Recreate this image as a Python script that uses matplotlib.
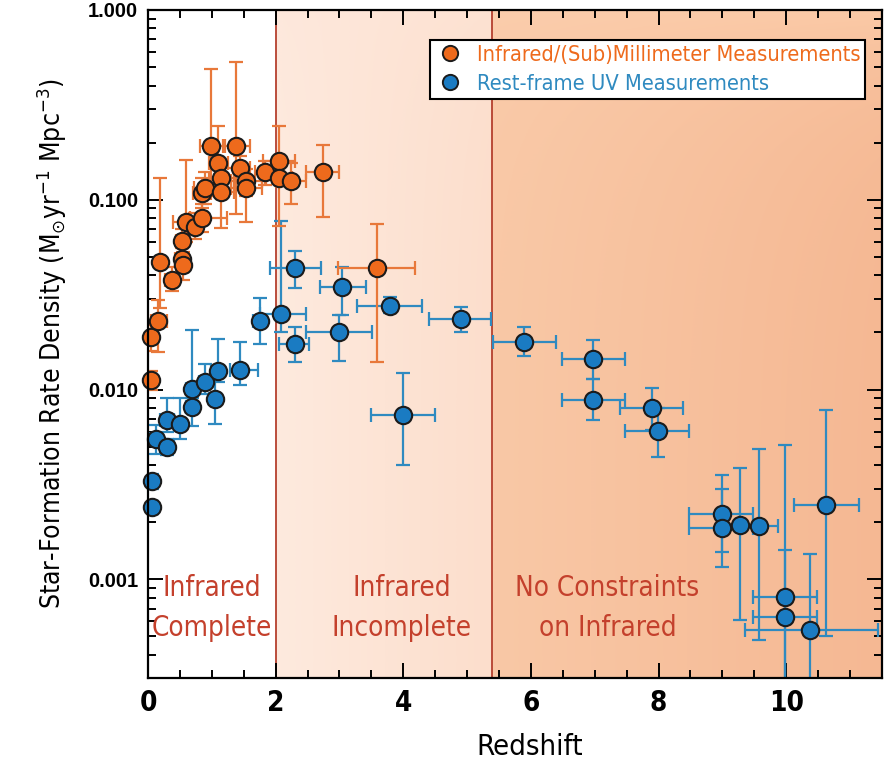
import numpy as np
import matplotlib.pyplot as plt
from matplotlib.lines import Line2D

# condensed face for the labels
COND = dict(family='DejaVu Sans', stretch='condensed')
plt.rcParams['mathtext.fontset'] = 'custom'
plt.rcParams['mathtext.rm'] = 'DejaVu Sans:stretch=condensed'
plt.rcParams['mathtext.it'] = 'DejaVu Sans:italic:stretch=condensed'

# Infrared / (sub)mm measurements: redshift, SFRD, lower/upper bounds, redshift bounds
ir_z = [0.04, 0.05, 0.15, 0.19, 0.37, 0.53, 0.55, 0.54, 0.60, 0.73, 0.85, 0.84, 0.90,
        0.99, 1.10, 1.14, 1.14, 1.38, 1.44, 1.54, 1.54, 1.84, 2.05, 2.05, 2.24, 2.74, 3.59]
ir_sfr = [0.0112, 0.019, 0.023, 0.047, 0.038, 0.0486, 0.0453, 0.061, 0.0759, 0.072, 0.080, 0.109, 0.116,
          0.191, 0.156, 0.131, 0.110, 0.191, 0.147, 0.125, 0.116, 0.140, 0.161, 0.131, 0.125, 0.140, 0.0438]
ir_lo = [0.0100, 0.016, 0.0157, 0.027, 0.033, 0.042, 0.038, 0.052, 0.060, 0.062, 0.068, 0.090, 0.095,
         0.105, 0.120, 0.110, 0.071, 0.084, 0.125, 0.105, 0.076, 0.120, 0.130, 0.073, 0.095, 0.0816, 0.0139]
ir_hi = [0.0125, 0.022, 0.0295, 0.130, 0.044, 0.056, 0.053, 0.070, 0.163, 0.085, 0.095, 0.130, 0.140,
         0.490, 0.245, 0.160, 0.130, 0.530, 0.170, 0.145, 0.135, 0.160, 0.245, 0.155, 0.156, 0.195, 0.0743]
ir_zlo = [0.00, 0.00, 0.05, 0.19, 0.27, 0.43, 0.45, 0.44, 0.39, 0.63, 0.66, 0.70, 0.72,
          0.81, 0.95, 0.95, 0.95, 1.20, 1.20, 1.30, 1.30, 1.67, 1.80, 1.85, 2.00, 2.48, 2.97]
ir_zhi = [0.08, 0.10, 0.29, 0.19, 0.47, 0.63, 0.65, 0.64, 0.81, 0.83, 1.23, 0.98, 1.10,
          1.17, 1.25, 1.35, 1.35, 1.60, 1.60, 1.78, 1.78, 2.01, 2.30, 2.25, 2.48, 3.00, 4.18]

# rest-frame UV measurements
uv_z = [0.06, 0.06, 0.12, 0.30, 0.30, 0.50, 0.69, 0.69, 0.90, 1.09, 1.05, 1.44, 1.75,
        2.09, 2.31, 2.31, 2.99, 3.04, 3.79, 3.99, 4.90, 5.89, 6.98, 6.98, 7.89, 7.99,
        8.99, 8.99, 9.28, 9.58, 9.98, 9.98, 10.38, 10.63]
uv_sfr = [0.0033, 0.0024, 0.0055, 0.0050, 0.0069, 0.0066, 0.0081, 0.0101, 0.0110, 0.0125, 0.0089, 0.0126, 0.023,
          0.025, 0.0174, 0.0438, 0.0201, 0.0347, 0.0275, 0.0073, 0.0234, 0.0178, 0.0144, 0.00885, 0.0080, 0.00607,
          0.0022, 0.00186, 0.00194, 0.0019, 0.00081, 0.00063, 0.00054, 0.00247]
uv_lo = [0.0030, 0.0022, 0.0046, 0.0045, 0.0060, 0.0055, 0.0064, 0.0090, 0.0095, 0.0110, 0.0066, 0.0106, 0.0174,
         0.020, 0.0139, 0.0342, 0.0142, 0.0247, 0.0252, 0.0040, 0.0201, 0.0150, 0.0113, 0.0069, 0.0061, 0.0044,
         0.00139, 0.00116, 0.00061, 0.00048, 0.0003, 0.0003, 0.0002, 0.0005]
uv_hi = [0.0036, 0.0026, 0.0065, 0.0055, 0.0090, 0.0090, 0.0095, 0.0207, 0.0137, 0.0184, 0.0115, 0.0178, 0.0302,
         0.0777, 0.0213, 0.0537, 0.0247, 0.0443, 0.0308, 0.0122, 0.0272, 0.0213, 0.0182, 0.0113, 0.0102, 0.0080,
         0.00354, 0.0030, 0.00386, 0.00485, 0.0051, 0.00143, 0.00136, 0.0078]
uv_zlo = [0.00, 0.00, 0.02, 0.19, 0.19, 0.40, 0.59, 0.59, 0.80, 0.99, 0.95, 1.28, 1.65,
          1.75, 2.06, 1.91, 2.48, 2.70, 3.27, 3.49, 4.41, 5.40, 6.48, 6.48, 7.39, 7.47,
          8.47, 8.47, 9.28, 9.28, 9.48, 9.48, 9.35, 10.13]
uv_zhi = [0.10, 0.10, 0.22, 0.41, 0.41, 0.60, 0.79, 0.79, 1.00, 1.19, 1.15, 1.72, 1.85,
          2.48, 2.53, 2.71, 3.51, 3.42, 4.30, 4.50, 5.38, 6.39, 7.48, 7.48, 8.38, 8.48,
          9.48, 9.48, 9.28, 9.87, 10.49, 10.49, 11.44, 11.14]

# redshift regimes
bounds = [0, 2, 5.39, 11.5]
regime_labels = ['Infrared\nComplete', 'Infrared\nIncomplete', 'No Constraints\non Infrared']
label_x = [1.0, 3.98, 7.2]

ORANGE = '#ee6a1c'
ORANGE_BAR = '#e8783a'
BLUE = '#1a7bc2'
BLUE_BAR = '#2f8ac0'
RED = '#b5402e'

fig = plt.figure(figsize=(8.89, 7.63), dpi=100)
ax = fig.add_axes([0.1665, 0.1114, 0.8255, 0.8755])
ax.set_yscale('log')
ax.set_xlim(0, 11.5)
ax.set_ylim(10 ** -3.52, 1.0)

# shaded regimes: corner colours (top-left, top-right, bottom-left, bottom-right)
shades = [None,
          [(254, 232, 220), (253, 226, 210), (254, 234, 222), (252, 222, 204)],
          [(251, 205, 172), (251, 202, 167), (249, 200, 166), (245, 184, 147)]]
u = np.linspace(0, 1, 128)
gx, gy = np.meshgrid(u, u)
for i, sh in enumerate(shades):
    if sh is None:
        continue
    tl, tr, bl, br = [np.array(c) / 255 for c in sh]
    img = (tl * ((1 - gx) * (1 - gy))[..., None] + tr * (gx * (1 - gy))[..., None]
           + bl * ((1 - gx) * gy)[..., None] + br * (gx * gy)[..., None])
    ax.imshow(img, extent=[bounds[i], bounds[i + 1], 10 ** -3.52, 1.0], origin='upper',
              aspect='auto', zorder=0, interpolation='bilinear')
for b in bounds[1:3]:
    ax.axvline(b, color=RED, lw=1.3, zorder=1)

for lx, txt in zip(label_x, regime_labels):
    ax.text(lx, 10 ** -3.15, txt, ha='center', va='center', color='#c4402c',
            fontsize=20, linespacing=1.55, zorder=2, **COND)

def draw(z, sfr, lo, hi, zlo, zhi, face, bar):
    z = np.array(z); sfr = np.array(sfr)
    yerr = [sfr - np.array(lo), np.array(hi) - sfr]
    xerr = [z - np.array(zlo), np.array(zhi) - z]
    ax.errorbar(z, sfr, yerr=yerr, xerr=xerr, fmt='none', ecolor=bar,
                elinewidth=1.6, capsize=5, capthick=1.6, zorder=3)
    ax.plot(z, sfr, 'o', ms=12.5, mfc=face, mec='#1b1b1b', mew=1.5, zorder=4, clip_on=False)

draw(uv_z, uv_sfr, uv_lo, uv_hi, uv_zlo, uv_zhi, BLUE, BLUE_BAR)
draw(ir_z, ir_sfr, ir_lo, ir_hi, ir_zlo, ir_zhi, ORANGE, ORANGE_BAR)

# axes styling
for s in ax.spines.values():
    s.set_linewidth(1.6)
    s.set_zorder(5)
ax.set_xticks([0, 2, 4, 6, 8, 10])
ax.set_xticks(np.arange(0, 11.6, 0.5), minor=True)
ax.set_xticklabels(['0', '2', '4', '6', '8', '10'], fontsize=20, fontweight='bold', **COND)
ax.set_yticks([0.001, 0.01, 0.1, 1.0])
ax.set_yticklabels(['0.001', '0.010', '0.100', '1.000'], fontsize=14.5, fontweight='bold',
                   family='Liberation Sans')
ax.tick_params(which='both', direction='in', top=True, right=True, width=1.4)
ax.tick_params(which='major', length=11, pad=7)
ax.tick_params(which='minor', length=6)
ax.tick_params(axis='x', which='major', pad=8)

ax.set_xlabel('Redshift', fontsize=21, labelpad=10, **COND)
ax.xaxis.set_label_coords(0.52, -0.083)
ax.set_ylabel(r'Star-Formation Rate Density (M$_{\odot}$yr$^{-1}$ Mpc$^{-3}$)',
              fontsize=19, labelpad=14, **COND)

handles = [Line2D([], [], ls='none', marker='o', ms=11, mfc=ORANGE, mec='#1b1b1b', mew=1.4),
           Line2D([], [], ls='none', marker='o', ms=11, mfc=BLUE, mec='#1b1b1b', mew=1.4)]
leg = ax.legend(handles, ['Infrared/(Sub)Millimeter Measurements', 'Rest-frame UV Measurements'],
                loc='upper right', bbox_to_anchor=(0.977, 0.955), borderaxespad=0,
                prop=dict(size=15.7, **COND),
                frameon=True, fancybox=False, edgecolor='black', framealpha=1,
                handletextpad=0.5, borderpad=0.22, labelspacing=0.42, handlelength=1.4)
leg.get_frame().set_linewidth(1.5)
leg.set_zorder(6)
for t, c in zip(leg.get_texts(), [ORANGE, BLUE_BAR]):
    t.set_color(c)

fig.savefig('out.png', dpi=100)
